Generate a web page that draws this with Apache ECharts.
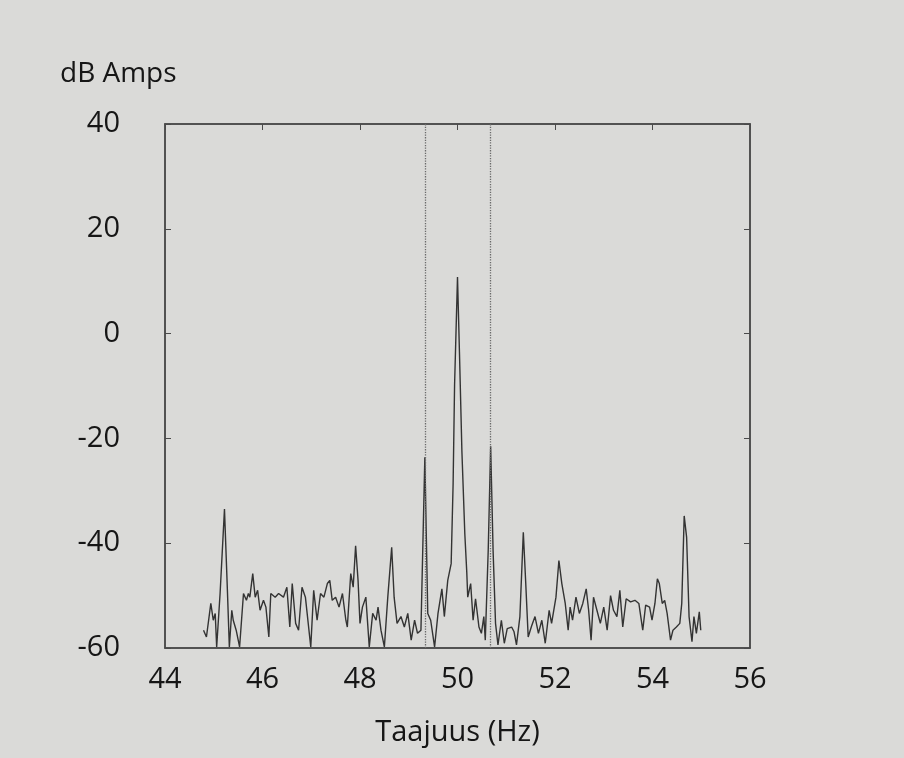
<!DOCTYPE html>
<html>
<head>
<meta charset="utf-8">
<script src="https://cdn.jsdelivr.net/npm/echarts@6/dist/echarts.min.js"></script>
<style>
  html, body { margin: 0; padding: 0; background: #dadad8; }
  #spectrum { width: 904px; height: 758px; }
</style>
</head>
<body>
<div id="spectrum"></div>
<script>
// taajuus (Hz) ja amplitudi (dB), luettu kuvasta
var freq = [
  44.79, 44.85, 44.94, 44.99, 45.03, 45.06, 45.13, 45.16, 45.22, 45.28,
  45.32, 45.37, 45.40, 45.46, 45.53, 45.61, 45.67, 45.71, 45.74, 45.80,
  45.85, 45.90, 45.95, 46.02, 46.07, 46.13, 46.17, 46.26, 46.33, 46.43,
  46.50, 46.56, 46.61, 46.68, 46.74, 46.81, 46.88, 46.99, 47.05, 47.12,
  47.19, 47.26, 47.33, 47.38, 47.43, 47.50, 47.57, 47.64, 47.71, 47.74,
  47.81, 47.86, 47.91, 47.96, 48.00, 48.05, 48.12, 48.19, 48.26, 48.33,
  48.37, 48.43, 48.50, 48.57, 48.65, 48.70, 48.76, 48.84, 48.91, 48.98,
  49.05, 49.12, 49.18, 49.25, 49.33, 49.39, 49.45, 49.53, 49.60, 49.68,
  49.73, 49.80, 49.87, 49.91, 49.94, 50.00, 50.04, 50.09, 50.15, 50.19,
  50.21, 50.27, 50.32, 50.37, 50.44, 50.49, 50.54, 50.57, 50.63, 50.68,
  50.73, 50.78, 50.83, 50.90, 50.96, 51.02, 51.11, 51.16, 51.21, 51.28,
  51.35, 51.40, 51.45, 51.52, 51.59, 51.66, 51.73, 51.80, 51.88, 51.93,
  52.02, 52.08, 52.14, 52.21, 52.27, 52.31, 52.36, 52.43, 52.50, 52.57,
  52.64, 52.69, 52.74, 52.79, 52.86, 52.93, 53.00, 53.07, 53.14, 53.20,
  53.27, 53.33, 53.39, 53.46, 53.55, 53.64, 53.72, 53.80, 53.86, 53.94,
  53.99, 54.05, 54.10, 54.14, 54.20, 54.25, 54.30, 54.37, 54.42, 54.49,
  54.56, 54.60, 54.65, 54.70, 54.75, 54.81, 54.85, 54.90, 54.96, 54.99
];
var dbAmps = [
  -56.6, -57.9, -51.5, -54.7, -53.4, -59.8, -49.6, -49.3, -33.5, -49.0,
  -59.8, -52.8, -54.7, -56.6, -59.8, -49.6, -50.9, -49.6, -50.3, -45.8,
  -50.3, -49.0, -52.8, -50.9, -52.2, -57.9, -49.6, -50.3, -49.6, -50.3,
  -48.4, -56.0, -47.7, -55.3, -56.6, -48.4, -50.3, -59.8, -49.0, -54.7,
  -49.6, -50.3, -47.7, -47.1, -50.9, -50.3, -52.2, -49.6, -54.7, -56.0,
  -45.8, -48.4, -40.5, -47.1, -55.3, -52.2, -50.3, -59.8, -53.4, -54.7,
  -52.2, -56.6, -59.8, -50.3, -40.8, -50.3, -55.3, -54.0, -56.0, -53.4,
  -58.5, -54.7, -57.2, -56.6, -23.6, -53.4, -54.7, -59.8, -53.4, -48.7,
  -54.0, -47.1, -43.9, -28.7, -9.8, 10.8, -3.5, -22.4, -38.2, -45.5,
  -50.3, -47.7, -54.7, -50.6, -56.0, -57.2, -54.0, -58.5, -41.4, -21.5,
  -41.4, -55.3, -59.4, -54.7, -59.1, -56.3, -56.0, -56.9, -59.4, -54.0,
  -37.9, -47.7, -57.9, -55.8, -54.0, -57.2, -54.7, -59.1, -52.8, -55.3,
  -50.3, -43.3, -47.7, -51.5, -56.6, -52.2, -54.7, -50.3, -53.4, -51.5,
  -48.7, -52.8, -58.5, -50.3, -52.8, -55.3, -52.2, -56.6, -50.0, -52.8,
  -54.0, -49.0, -56.0, -50.6, -51.2, -50.9, -51.5, -56.6, -51.8, -52.2,
  -54.7, -51.5, -46.8, -47.7, -51.5, -50.9, -53.4, -58.5, -56.6, -56.0,
  -55.3, -51.5, -34.8, -38.9, -54.0, -58.8, -54.0, -57.2, -53.1, -56.6
];
// pistekatkoviivat sivukaistojen kohdalla
var sidebands = [49.33, 50.67];

var xTicks = [44, 46, 48, 50, 52, 54, 56];
var yTicks = [-60, -40, -20, 0, 20, 40];

var points = freq.map(function (f, i) { return [f, dbAmps[i]]; });

var chart = echarts.init(document.getElementById('spectrum'));
var txt = { color: '#161616', fontFamily: 'Open Sans', fontSize: 29 };
var axisLine = { onZero: false, lineStyle: { color: '#4a4a4a', width: 1.5 } };

chart.setOption({
    backgroundColor: '#dadad8',
    animation: false,
    title: {
        text: 'dB Amps',
        left: 55,
        top: 55,
        textStyle: { color: '#161616', fontFamily: 'Open Sans', fontSize: 28, fontWeight: 'normal' }
    },
    grid: {
        left: 165, right: 154, top: 124, bottom: 110,
        show: true, borderColor: '#4a4a4a', borderWidth: 1.5
    },
    xAxis: [
        {
            type: 'value',
            min: xTicks[0], max: xTicks[xTicks.length - 1], interval: 2,
            name: 'Taajuus (Hz)',
            nameLocation: 'middle',
            nameGap: 70,
            nameTextStyle: txt,
            axisLine: axisLine,
            axisTick: { show: false },
            axisLabel: Object.assign({ margin: 17 }, txt),
            splitLine: { show: false }
        },
        {
            type: 'value', position: 'top',
            min: xTicks[0], max: xTicks[xTicks.length - 1], interval: 2,
            axisLine: axisLine,
            axisTick: { inside: true, length: 6, lineStyle: { color: '#4a4a4a' } },
            axisLabel: { show: false },
            splitLine: { show: false }
        }
    ],
    yAxis: [
        {
            type: 'value',
            min: yTicks[0], max: yTicks[yTicks.length - 1], interval: 20,
            axisLine: axisLine,
            axisTick: { show: true, inside: true, length: 6, lineStyle: { color: '#4a4a4a' } },
            axisLabel: Object.assign({ margin: 45 }, txt),
            splitLine: { show: false }
        },
        {
            type: 'value', position: 'right',
            min: yTicks[0], max: yTicks[yTicks.length - 1], interval: 20,
            axisLine: axisLine,
            axisTick: { show: true, inside: true, length: 6, lineStyle: { color: '#4a4a4a' } },
            axisLabel: { show: false },
            splitLine: { show: false }
        }
    ],
    series: [
        {
            type: 'line',
            data: points,
            showSymbol: false,
            lineStyle: { color: '#333333', width: 1.4 },
            markLine: {
                silent: true,
                symbol: ['none', 'none'],
                label: { show: false },
                lineStyle: { color: '#6a6a6a', type: 'dotted', width: 1.3 },
                data: sidebands.map(function (s) { return { xAxis: s }; })
            }
        }
    ]
});
</script>
</body>
</html>
